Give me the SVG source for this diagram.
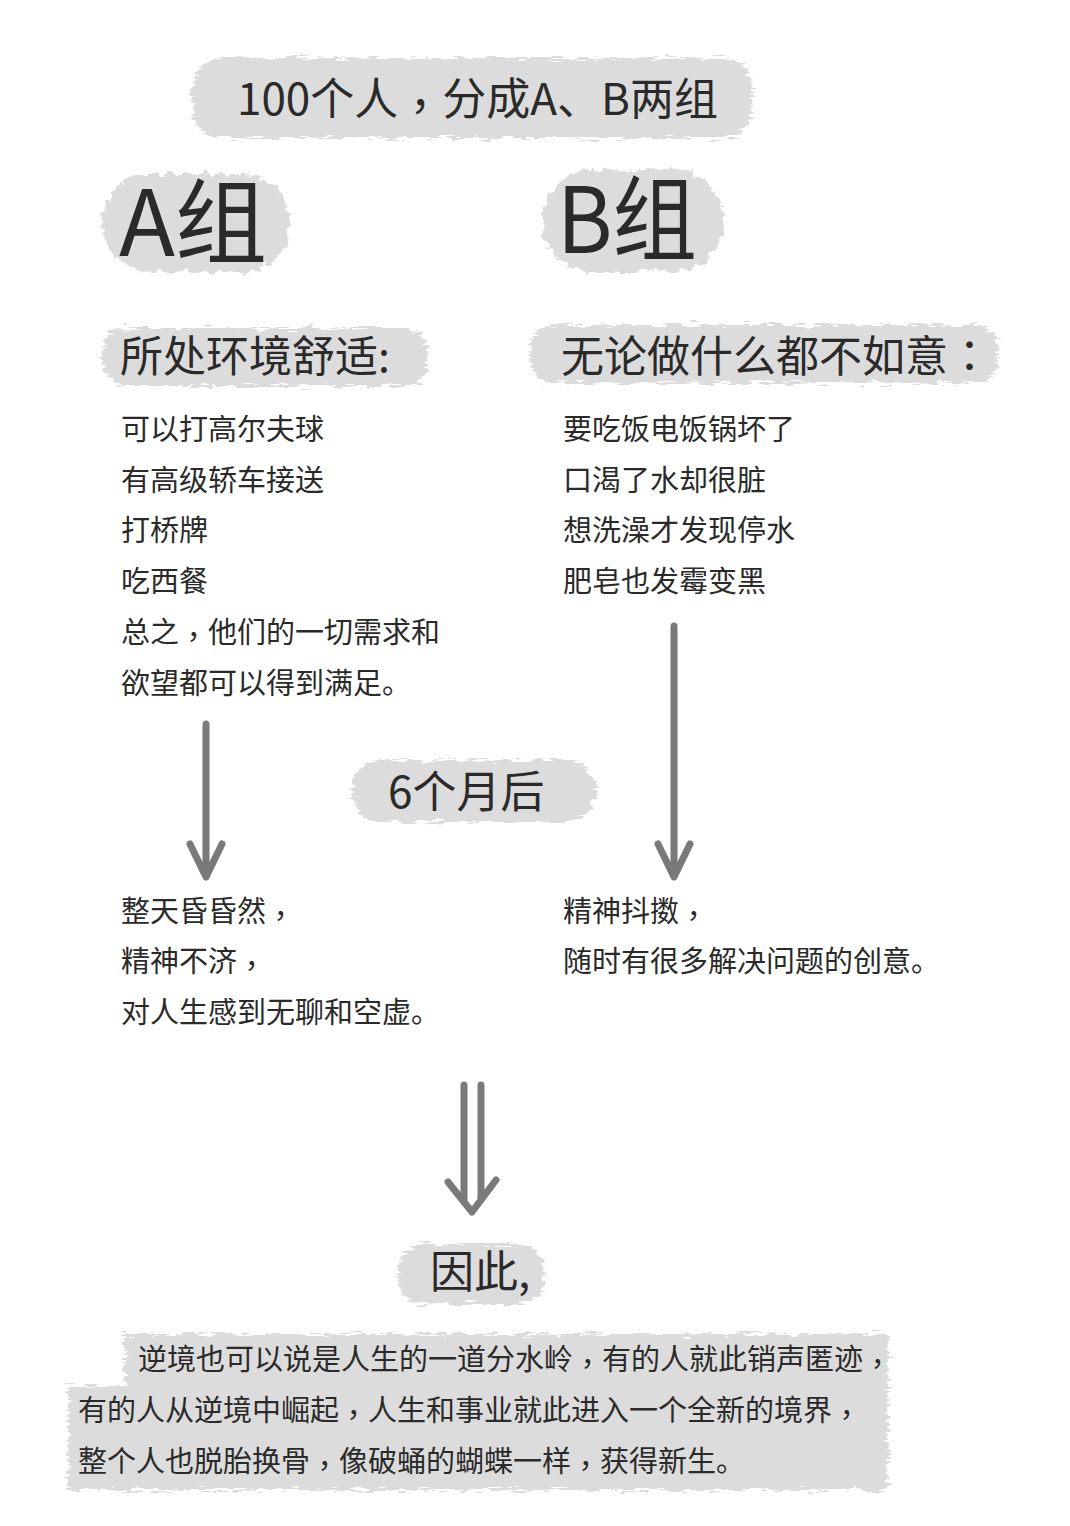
<svg xmlns="http://www.w3.org/2000/svg" width="1070" height="1526" viewBox="0 0 1070 1526">
<defs>
<filter id="rough" x="-10%" y="-40%" width="120%" height="180%">
<feTurbulence type="fractalNoise" baseFrequency="0.06 0.35" numOctaves="3" seed="4" result="n"/>
<feDisplacementMap in="SourceGraphic" in2="n" scale="14" xChannelSelector="R" yChannelSelector="G"/>
</filter>
<filter id="roughBlob" x="-15%" y="-15%" width="130%" height="130%">
<feTurbulence type="fractalNoise" baseFrequency="0.12" numOctaves="3" seed="7" result="n"/>
<feDisplacementMap in="SourceGraphic" in2="n" scale="12" xChannelSelector="R" yChannelSelector="G"/>
</filter>
</defs>
<style>
text{font-family:"Noto Sans CJK SC","Noto Sans",sans-serif;fill:#2a2a2a}
.p{font-family:"Noto Sans CJK TC",sans-serif}
.band{fill:#dcdcdc}
.h1{font-size:44px}
.big{font-size:92px}
.h2{font-size:43px}
.li{font-size:29px}
.arrow{fill:none;stroke:#7a7a7a;stroke-width:7;stroke-linecap:round;stroke-linejoin:round}
</style>
<rect width="1070" height="1526" fill="#ffffff"/>

<g id="title">
<rect class="band" x="192" y="58" width="560" height="80" rx="30" filter="url(#rough)"/>
<text class="h1" x="237" y="115">100个人<tspan class="p" dy="0.18em">，</tspan><tspan dy="-0.18em">分成A、B两组</tspan></text>
</g>

<g id="groupA">
<rect class="band" x="102" y="174" width="188" height="98" rx="48" filter="url(#roughBlob)"/>
<text class="big" x="119" y="256">A组</text>
</g>

<g id="groupB">
<rect class="band" x="542" y="170" width="182" height="102" rx="50" filter="url(#roughBlob)"/>
<text class="big" x="557" y="253" textLength="140" lengthAdjust="spacingAndGlyphs">B组</text>
</g>

<g id="headA">
<rect class="band" x="102" y="328" width="326" height="58" rx="24" filter="url(#rough)"/>
<text class="h2" x="120" y="372">所处环境舒适:</text>
</g>

<g id="headB">
<rect class="band" x="530" y="325" width="468" height="58" rx="24" filter="url(#rough)"/>
<text class="h2" x="561" y="372">无论做什么都不如意<tspan class="p">：</tspan></text>
</g>

<g id="listA">
<text class="li" x="121" y="440">可以打高尔夫球</text>
<text class="li" x="121" y="491">有高级轿车接送</text>
<text class="li" x="121" y="541">打桥牌</text>
<text class="li" x="121" y="592">吃西餐</text>
<text class="li" x="121" y="643">总之<tspan class="p" dy="0.18em">，</tspan><tspan dy="-0.18em">他们的一切需求和</tspan></text>
<text class="li" x="121" y="694">欲望都可以得到满足。</text>
</g>

<g id="listB">
<text class="li" x="563" y="440">要吃饭电饭锅坏了</text>
<text class="li" x="563" y="491">口渴了水却很脏</text>
<text class="li" x="563" y="541">想洗澡才发现停水</text>
<text class="li" x="563" y="592">肥皂也发霉变黑</text>
</g>

<g id="after6">
<rect class="band" x="352" y="760" width="244" height="62" rx="28" filter="url(#rough)"/>
<text class="h1" x="388" y="808">6个月后</text>
</g>

<g id="resultA">
<text class="li" x="121" y="922">整天昏昏然<tspan class="p" dy="0.18em">，</tspan></text>
<text class="li" x="121" y="972">精神不济<tspan class="p" dy="0.18em">，</tspan></text>
<text class="li" x="121" y="1023">对人生感到无聊和空虚。</text>
</g>

<g id="resultB">
<text class="li" x="563" y="922">精神抖擞<tspan class="p" dy="0.18em">，</tspan></text>
<text class="li" x="563" y="972">随时有很多解决问题的创意。</text>
</g>

<g id="therefore">
<rect class="band" x="398" y="1244" width="146" height="60" rx="26" filter="url(#rough)"/>
<text class="h1" x="430" y="1288">因此,</text>
</g>

<g id="conclusion">
<path class="band" d="M125,1334 H888 V1490 H68 V1386 H125 Z" filter="url(#rough)"/>
<text class="li" x="138" y="1370">逆境也可以说是人生的一道分水岭<tspan class="p" dy="0.18em">，</tspan><tspan dy="-0.18em">有的人就此销声匿迹</tspan><tspan class="p" dy="0.18em">，</tspan></text>
<text class="li" x="78" y="1421">有的人从逆境中崛起<tspan class="p" dy="0.18em">，</tspan><tspan dy="-0.18em">人生和事业就此进入一个全新的境界</tspan><tspan class="p" dy="0.18em">，</tspan></text>
<text class="li" x="78" y="1472">整个人也脱胎换骨<tspan class="p" dy="0.18em">，</tspan><tspan dy="-0.18em">像破蛹的蝴蝶一样</tspan><tspan class="p" dy="0.18em">，</tspan><tspan dy="-0.18em">获得新生。</tspan></text>
</g>

<g id="connectors">
<path class="arrow" d="M206,724 V876 M190,844 L206,877 L222,844"/>
<path class="arrow" d="M674,626 V876 M658,844 L674,877 L690,844"/>
<path class="arrow" stroke-width="6" d="M464,1085 V1200 M481,1085 V1200 M448,1182 L472,1212 L496,1180"/>
</g>
</svg>
